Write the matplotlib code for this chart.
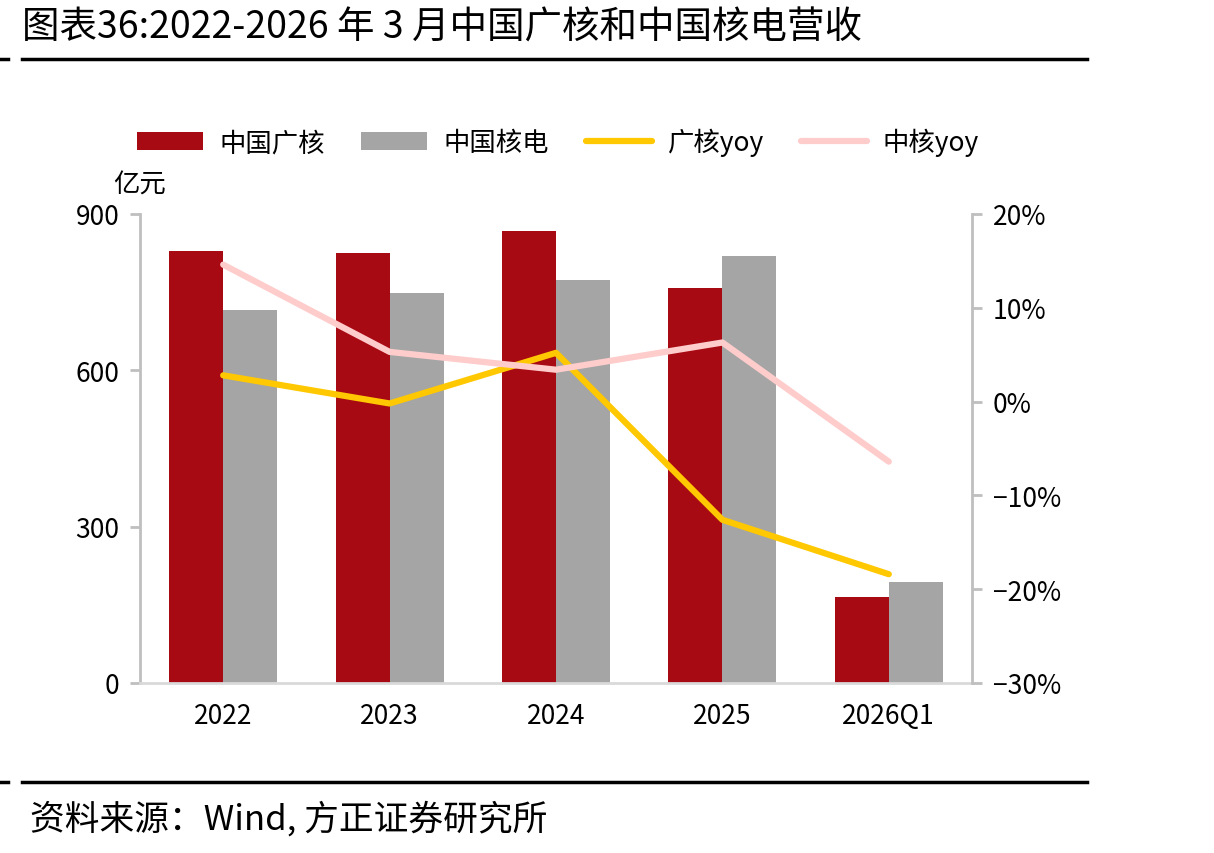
import matplotlib
matplotlib.use('Agg')
import matplotlib.pyplot as plt
import numpy as np
from matplotlib.ticker import FuncFormatter

plt.rcParams['font.family'] = ['Noto Sans CJK SC', 'DejaVu Sans']
plt.rcParams['axes.unicode_minus'] = True

categories = ['2022', '2023', '2024', '2025', '2026Q1']
cgn_rev = [829, 825, 867, 758, 165]      # 中国广核 营收 亿元
cnnp_rev = [716, 748, 773, 819, 194]     # 中国核电 营收 亿元
cgn_yoy = [2.8, -0.2, 5.2, -12.6, -18.4]  # %
cnnp_yoy = [14.6, 5.3, 3.4, 6.3, -6.4]    # %

red = '#A80A14'
grey = '#A5A5A5'
yellow = '#FFC800'
pink = '#FFCCCC'
spine = '#BFBFBF'

fig = plt.figure(figsize=(12.14, 8.54), dpi=100)
ax = fig.add_axes([140/1214, 1-684/854, 832/1214, 469/854])
ax2 = ax.twinx()

x = np.arange(len(categories))
w = 0.325
b1 = ax.bar(x - w/2, cgn_rev, w, color=red, label='中国广核')
b2 = ax.bar(x + w/2, cnnp_rev, w, color=grey, label='中国核电')
l1, = ax2.plot(x, cgn_yoy, color=yellow, lw=4.5, solid_capstyle='round', label='广核yoy')
l2, = ax2.plot(x, cnnp_yoy, color=pink, lw=4.5, solid_capstyle='round', label='中核yoy')

ax.set_xlim(-0.5, 4.5)
ax.set_ylim(0, 900)
ax.set_yticks([0, 300, 600, 900])
ax2.set_ylim(-30, 20)
ax2.set_yticks([-30, -20, -10, 0, 10, 20])
ax2.yaxis.set_major_formatter(FuncFormatter(lambda v, p: f'{v:.0f}%'.replace('-', '\u2212')))

ax.set_xticks(x)
ax.set_xticklabels(categories, fontsize=19)
ax.tick_params(axis='x', length=0, pad=14)
ax.tick_params(axis='y', labelsize=19, color=spine, length=7, width=2, pad=8)
ax2.tick_params(axis='y', labelsize=19, color=spine, length=7, width=2, pad=8)

for a in (ax, ax2):
    for s in a.spines.values():
        s.set_visible(False)
ax.spines['left'].set_visible(True)
ax.spines['left'].set_color(spine)
ax.spines['left'].set_linewidth(2)
ax.spines['bottom'].set_visible(True)
ax.spines['bottom'].set_color('#D9D9D9')
ax.spines['bottom'].set_linewidth(2)
ax2.spines['right'].set_visible(True)
ax2.spines['right'].set_color(spine)
ax2.spines['right'].set_linewidth(2)

fig.text(113/1214, 1-185/854, '亿元', fontsize=19, va='center', ha='left')

handles = [b1, b2, l1, l2]
fig.legend(handles, [h.get_label() for h in handles], loc='center', bbox_to_anchor=(558/1214, 1-143/854),
           ncol=4, frameon=False, fontsize=19, handlelength=2.5, handleheight=0.7, columnspacing=1.4,
           handletextpad=0.6)

fig.text(22/1214, 1-28/854, '图表36:2022-2026 年 3 月中国广核和中国核电营收', fontsize=27, va='center', ha='left')
fig.add_artist(plt.Line2D([22/1214, 1087/1214], [1-60/854, 1-60/854], color='black', lw=2.5))
fig.add_artist(plt.Line2D([0, 8/1214], [1-60/854, 1-60/854], color='black', lw=2.5))
fig.add_artist(plt.Line2D([22/1214, 1087/1214], [1-783/854, 1-783/854], color='black', lw=2.5))
fig.add_artist(plt.Line2D([0, 8/1214], [1-783/854, 1-783/854], color='black', lw=2.5))
fig.text(30/1214, 1-820/854, '资料来源：Wind, 方正证券研究所', fontsize=25, style='italic', va='center', ha='left')

fig.savefig('out.png', dpi=100)
